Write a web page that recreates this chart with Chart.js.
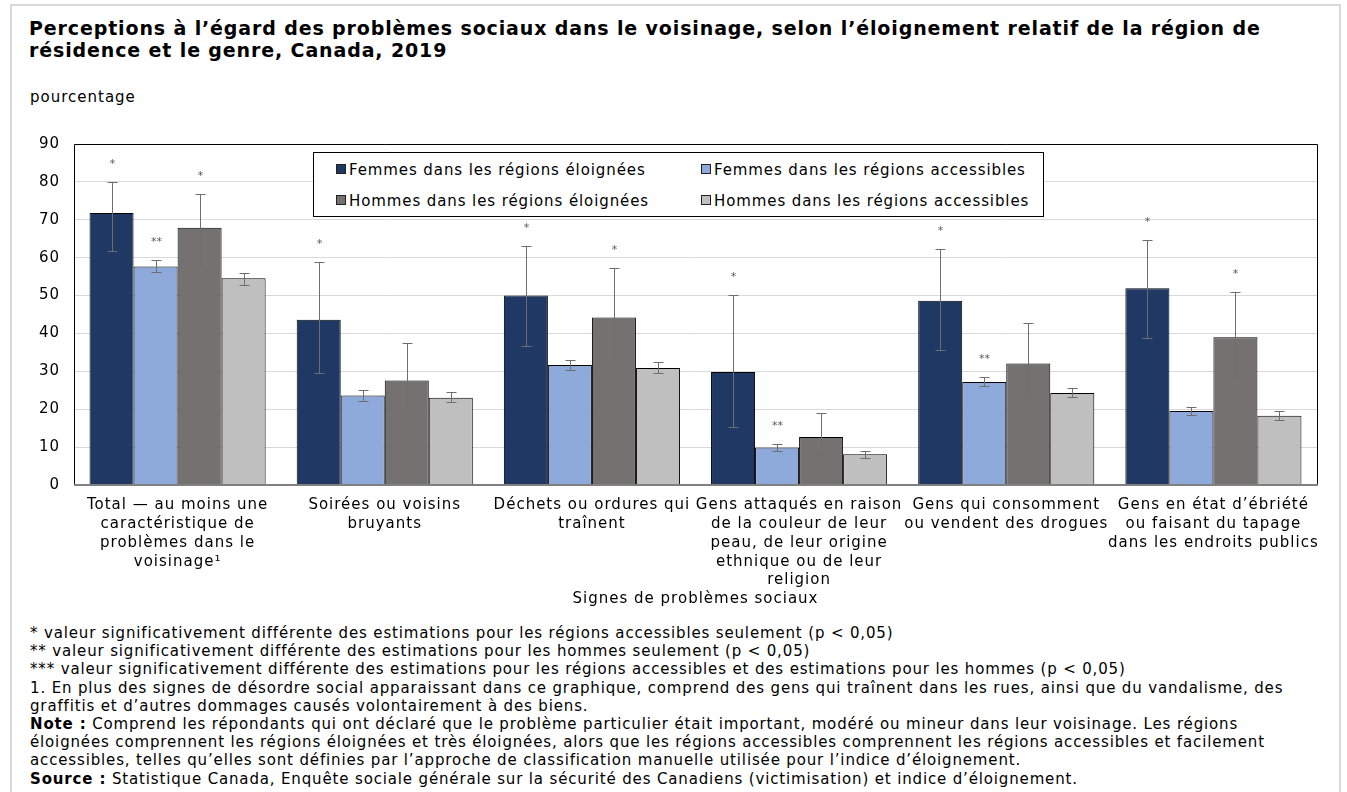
<!DOCTYPE html>
<html lang="fr">
<head>
<meta charset="utf-8">
<title>Perceptions à l'égard des problèmes sociaux</title>
<script src="https://cdn.jsdelivr.net/npm/chart.js@4.4.1/dist/chart.umd.min.js"></script>
<style>
  html, body { margin: 0; padding: 0; background: #fff; }
  body { width: 1347px; height: 792px; position: relative; overflow: hidden; font-family: 'DejaVu Sans', Verdana, sans-serif; color: #000; }
  #frame { position: absolute; left: 10px; top: 4px; width: 1327px; height: 800px; border: 2px solid #d9d9d9; }
  #title { position: absolute; left: 29px; top: 17px; white-space: nowrap; font-weight: bold; font-size: 19px; letter-spacing: 0.87px; line-height: 22px; }
  #unit { position: absolute; left: 30px; top: 88px; font-size: 15px; letter-spacing: 1px; }
  #wrap { position: absolute; left: 0; top: 110px; width: 1347px; height: 505px; }
  #legend { position: absolute; left: 313px; top: 152px; width: 729px; height: 63px; border: 1px solid #000; background: #fff; font-size: 15px; letter-spacing: 0.9px; }
  #legend .item { position: absolute; white-space: nowrap; }
  #legend .sw { display: inline-block; width: 8px; height: 8px; border: 1px solid #222; margin-right: 3px; vertical-align: 1px; }
  #notes { position: absolute; left: 30px; top: 624px; white-space: nowrap; font-size: 15px; letter-spacing: 0.85px; line-height: 18.2px; }
</style>
</head>
<body>
<div id="frame"></div>
<div id="title">Perceptions à l’égard des problèmes sociaux dans le voisinage, selon l’éloignement relatif de la région de<br>résidence et le genre, Canada, 2019</div>
<div id="unit">pourcentage</div>
<div id="wrap"><canvas id="chart" width="1347" height="505"></canvas></div>
<div id="legend"></div>
<div id="notes">
  <div>* valeur significativement différente des estimations pour les régions accessibles seulement (p &lt; 0,05)</div>
  <div>** valeur significativement différente des estimations pour les hommes seulement (p &lt; 0,05)</div>
  <div>*** valeur significativement différente des estimations pour les régions accessibles et des estimations pour les hommes (p &lt; 0,05)</div>
  <div>1. En plus des signes de désordre social apparaissant dans ce graphique, comprend des gens qui traînent dans les rues, ainsi que du vandalisme, des<br>graffitis et d’autres dommages causés volontairement à des biens.</div>
  <div><b>Note :</b> Comprend les répondants qui ont déclaré que le problème particulier était important, modéré ou mineur dans leur voisinage. Les régions<br>éloignées comprennent les régions éloignées et très éloignées, alors que les régions accessibles comprennent les régions accessibles et facilement<br>accessibles, telles qu’elles sont définies par l’approche de classification manuelle utilisée pour l’indice d’éloignement.</div>
  <div><b>Source :</b> Statistique Canada, Enquête sociale générale sur la sécurité des Canadiens (victimisation) et indice d’éloignement.</div>
</div>
<script>
(function () {
  'use strict';

  var CATEGORIES = [
    ['Total — au moins une', 'caractéristique de', 'problèmes dans le', 'voisinage¹'],
    ['Soirées ou voisins', 'bruyants'],
    ['Déchets ou ordures qui', 'traînent'],
    ['Gens attaqués en raison', 'de la couleur de leur', 'peau, de leur origine', 'ethnique ou de leur', 'religion'],
    ['Gens qui consomment', 'ou vendent des drogues'],
    ['Gens en état d’ébriété', 'ou faisant du tapage', 'dans les endroits publics']
  ];

  var Y_TICKS = [0, 10, 20, 30, 40, 50, 60, 70, 80, 90];

  var FEM_ELOIGNEES = [71.8, 43.6, 50.0, 29.8, 48.6, 51.9];
  var FEM_ELOIGNEES_LOW = [61.7, 29.5, 36.7, 15.3, 35.5, 38.9];
  var FEM_ELOIGNEES_HIGH = [79.9, 58.8, 63.1, 50.2, 62.3, 64.6];
  var FEM_ELOIGNEES_SIG = ['*', '*', '*', '*', '*', '*'];

  var FEM_ACCESSIBLES = [57.7, 23.6, 31.7, 9.9, 27.2, 19.5];
  var FEM_ACCESSIBLES_LOW = [56.2, 22.2, 30.3, 9.1, 26.0, 18.4];
  var FEM_ACCESSIBLES_HIGH = [59.4, 25.1, 33.1, 10.9, 28.6, 20.7];
  var FEM_ACCESSIBLES_SIG = ['**', '', '', '**', '**', ''];

  var HOM_ELOIGNEES = [67.9, 27.6, 44.2, 12.7, 32.1, 39.0];
  var HOM_ELOIGNEES_LOW = [57.7, 19.5, 31.9, 8.2, 23.1, 28.2];
  var HOM_ELOIGNEES_HIGH = [76.8, 37.6, 57.4, 19.1, 42.8, 51.0];
  var HOM_ELOIGNEES_SIG = ['*', '', '*', '', '', '*'];

  var HOM_ACCESSIBLES = [54.6, 23.0, 30.9, 8.1, 24.3, 18.3];
  var HOM_ACCESSIBLES_LOW = [52.9, 21.8, 29.5, 7.1, 23.2, 17.1];
  var HOM_ACCESSIBLES_HIGH = [56.0, 24.6, 32.4, 9.1, 25.7, 19.5];
  var HOM_ACCESSIBLES_SIG = ['', '', '', '', '', ''];

  var FONT = "'DejaVu Sans', Verdana, sans-serif";

  function series(label, color, data, low, high, sig) {
    return {
      label: label,
      data: data,
      errLow: low,
      errHigh: high,
      sig: sig,
      backgroundColor: color,
      borderColor: '#000',
      borderWidth: 1,
      categoryPercentage: 0.85,
      barPercentage: 1.0
    };
  }

  var datasets = [
    series('Femmes dans les régions éloignées', '#203864', FEM_ELOIGNEES, FEM_ELOIGNEES_LOW, FEM_ELOIGNEES_HIGH, FEM_ELOIGNEES_SIG),
    series('Femmes dans les régions accessibles', '#8eaadb', FEM_ACCESSIBLES, FEM_ACCESSIBLES_LOW, FEM_ACCESSIBLES_HIGH, FEM_ACCESSIBLES_SIG),
    series('Hommes dans les régions éloignées', '#767171', HOM_ELOIGNEES, HOM_ELOIGNEES_LOW, HOM_ELOIGNEES_HIGH, HOM_ELOIGNEES_SIG),
    series('Hommes dans les régions accessibles', '#bfbfbf', HOM_ACCESSIBLES, HOM_ACCESSIBLES_LOW, HOM_ACCESSIBLES_HIGH, HOM_ACCESSIBLES_SIG)
  ];

  // Verdana is wider than DejaVu Sans: widen canvas text a little
  var spacing = {
    id: 'spacing',
    beforeUpdate: function (chart) { chart.ctx.letterSpacing = '1px'; },
    beforeDraw: function (chart) { chart.ctx.letterSpacing = '1px'; }
  };

  // error bars + significance marks, both placed through the y scale
  var errorBars = {
    id: 'errorBars',
    afterDatasetsDraw: function (chart) {
      var ctx = chart.ctx;
      var y = chart.scales.y;
      ctx.save();
      chart.data.datasets.forEach(function (ds, i) {
        var meta = chart.getDatasetMeta(i);
        meta.data.forEach(function (bar, j) {
          var yl = Math.round(y.getPixelForValue(ds.errLow[j])) + 0.5;
          var yh = Math.round(y.getPixelForValue(ds.errHigh[j])) + 0.5;
          var cx = Math.round(bar.x) + 0.5;
          ctx.strokeStyle = '#6e6e6e';
          ctx.lineWidth = 1;
          ctx.beginPath();
          ctx.moveTo(cx, yl); ctx.lineTo(cx, yh);
          ctx.moveTo(cx - 5, yl); ctx.lineTo(cx + 5, yl);
          ctx.moveTo(cx - 5, yh); ctx.lineTo(cx + 5, yh);
          ctx.stroke();
          if (ds.sig[j]) {
            ctx.letterSpacing = '0px';
            ctx.fillStyle = '#595959';
            ctx.font = '11px ' + FONT;
            ctx.textAlign = 'center';
            ctx.textBaseline = 'middle';
            ctx.fillText(ds.sig[j], cx, yh - 18);
          }
        });
      });
      ctx.restore();
    }
  };

  // black frame on top/right of the plot area, grey base line
  var plotFrame = {
    id: 'plotFrame',
    afterDraw: function (chart) {
      var a = chart.chartArea;
      var ctx = chart.ctx;
      ctx.save();
      ctx.strokeStyle = '#000';
      ctx.lineWidth = 1;
      ctx.beginPath();
      ctx.moveTo(Math.round(a.left) + 0.5, Math.round(a.bottom));
      ctx.lineTo(Math.round(a.left) + 0.5, Math.round(a.top) + 0.5);
      ctx.lineTo(Math.round(a.right) + 0.5, Math.round(a.top) + 0.5);
      ctx.lineTo(Math.round(a.right) + 0.5, Math.round(a.bottom));
      ctx.stroke();
      ctx.strokeStyle = '#808080';
      ctx.lineWidth = 2;
      ctx.beginPath();
      ctx.moveTo(a.left, Math.round(a.bottom));
      ctx.lineTo(a.right + 1, Math.round(a.bottom));
      ctx.stroke();
      ctx.restore();
    }
  };

  var chart = new Chart(document.getElementById('chart').getContext('2d'), {
    type: 'bar',
    data: { labels: CATEGORIES, datasets: datasets },
    plugins: [spacing, errorBars, plotFrame],
    options: {
      responsive: false,
      animation: false,
      layout: { padding: { top: 34, left: 20, right: 30, bottom: 0 } },
      plugins: {
        legend: { display: false },
        tooltip: { enabled: false }
      },
      scales: {
        x: {
          grid: { display: false, drawTicks: false },
          border: { display: false },
          ticks: { color: '#000', font: { family: FONT, size: 15, lineHeight: 1.25 }, padding: 11, maxRotation: 0, autoSkip: false },
          title: { display: true, text: 'Signes de problèmes sociaux', color: '#000', font: { family: FONT, size: 15 }, padding: { top: 0, bottom: 7 } },
          afterFit: function (scale) { scale.height = 130; }
        },
        y: {
          min: Y_TICKS[0],
          max: Y_TICKS[Y_TICKS.length - 1],
          afterBuildTicks: function (scale) {
            scale.ticks = Y_TICKS.map(function (v) { return { value: v }; });
          },
          grid: { color: '#d9d9d9', drawTicks: false },
          border: { display: false },
          ticks: { color: '#000', font: { family: FONT, size: 15 }, padding: 14 },
          afterFit: function (scale) { scale.width = 54; }
        }
      }
    }
  });

  var legend = document.getElementById('legend');
  var spots = [[22, 8], [387, 8], [22, 39], [387, 39]];
  chart.data.datasets.forEach(function (ds, i) {
    var item = document.createElement('div');
    item.className = 'item';
    item.style.left = spots[i][0] + 'px';
    item.style.top = spots[i][1] + 'px';
    var sw = document.createElement('span');
    sw.className = 'sw';
    sw.style.background = ds.backgroundColor;
    item.appendChild(sw);
    item.appendChild(document.createTextNode(ds.label));
    legend.appendChild(item);
  });
})();
</script>
</body>
</html>
